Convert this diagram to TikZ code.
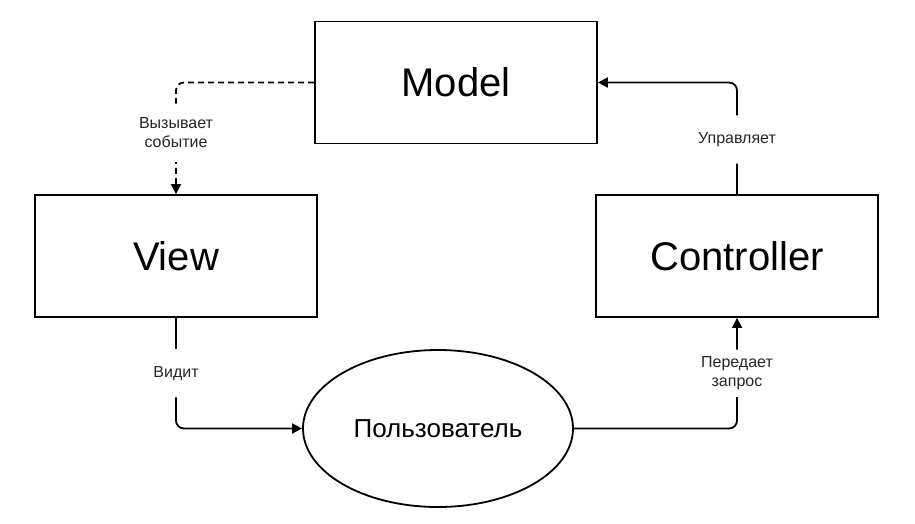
\documentclass[tikz,border=0pt]{standalone}
\usepackage{fontspec}
\setmainfont{Liberation Sans}
\usetikzlibrary{arrows.meta,shapes.geometric}
\begin{document}
\begin{tikzpicture}[x=1pt,y=-1pt,
  box/.style={draw=black,line width=1.8pt,minimum width=282pt,minimum height=122pt,inner sep=0pt,font=\fontsize{40}{46}\selectfont},
  usernode/.style={ellipse,draw=black,line width=1.8pt,minimum width=270pt,minimum height=157pt,inner sep=0pt,font=\fontsize{26}{30}\selectfont},
  conn/.style={line width=1.8pt,rounded corners=8pt,-{Triangle[length=10pt,width=10pt]}},
  lbl/.style={fill=white,text=black!85,font=\fontsize{16}{19}\selectfont,align=center,inner xsep=2pt}
]
\useasboundingbox (0,0) rectangle (915,523);
\node[box] (model) at (456,82.5) {Model};
\node[box] (view) at (176,256) {View};
\node[box] (ctrl) at (737,256) {Controller};
\node[usernode] (user) at (438,428.5) {Пользователь};

\draw[conn,dash pattern=on 6pt off 4pt] (model.west) -| node[lbl,pos=0.725,inner ysep=14pt]{Вызывает\\событие} (view.north);
\draw[conn] (view.south) |- node[lbl,pos=0.25,inner ysep=17pt]{Видит} (user.west);
\draw[conn] (user.east) -| node[lbl,pos=0.75,inner ysep=7pt]{Передает\\запрос} (ctrl.south);
\draw[conn] (ctrl.north) |- node[lbl,pos=0.245,inner ysep=17pt]{Управляет} (model.east);
\end{tikzpicture}
\end{document}
